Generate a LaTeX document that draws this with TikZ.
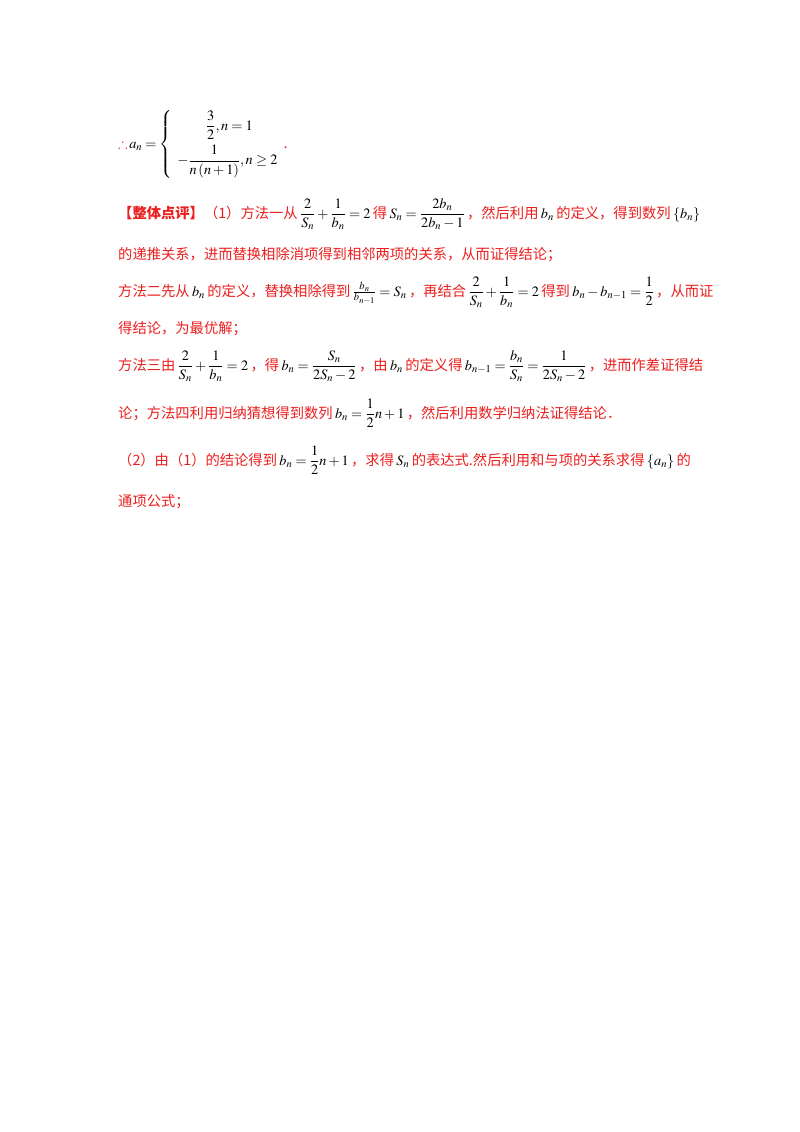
\documentclass[tikz,border=0pt]{standalone}
\usepackage{fontspec}
\usepackage{amsmath,amssymb}
\usepackage{mathptmx}
\newfontfamily\cjk{Noto Sans CJK SC}
\definecolor{rd}{RGB}{235,30,30}
\newcommand{\mk}[1]{\,{\color{black}$#1$}\,}
\begin{document}
\begin{tikzpicture}[x=1pt,y=-1pt,
  ln/.style={anchor=base west,inner sep=0pt,font=\fontsize{14.3}{17}\selectfont\cjk,text=rd}]
\useasboundingbox (0,0) rectangle (800,1132);
\node[ln] (l0) at (118,148) {$\textcolor{rd}{\therefore}\,\color{black}a_n=\left\{\begin{array}{l}\qquad\dfrac{3}{2},n=1\\[10pt] -\dfrac{1}{n\left(n+1\right)},n\geq 2\end{array}\right.$\textcolor{rd}{.}};
\node[ln] (l1) at (118,218) {\textbf{【整体点评】}（1）方法一从\mk{\dfrac{2}{S_n}+\dfrac{1}{b_n}=2}得\mk{S_n=\dfrac{2b_n}{2b_n-1}}，然后利用\mk{b_n}的定义，得到数列\mk{\{b_n\}}};
\node[ln] (l2) at (118,259) {的递推关系，进而替换相除消项得到相邻两项的关系，从而证得结论；};
\node[ln] (l3) at (118,296) {方法二先从\mk{b_n}的定义，替换相除得到\mk{\frac{b_n}{b_{n-1}}=S_n}，再结合\mk{\dfrac{2}{S_n}+\dfrac{1}{b_n}=2}得到\mk{b_n-b_{n-1}=\dfrac{1}{2}}，从而证};
\node[ln] (l4) at (118,333) {得结论，为最优解；};
\node[ln] (l5) at (118,370) {方法三由\mk{\dfrac{2}{S_n}+\dfrac{1}{b_n}=2}，得\mk{b_n=\dfrac{S_n}{2S_n-2}}，由\mk{b_n}的定义得\mk{b_{n-1}=\dfrac{b_n}{S_n}=\dfrac{1}{2S_n-2}}，进而作差证得结};
\node[ln] (l6) at (118,418) {论；方法四利用归纳猜想得到数列\mk{b_n=\dfrac{1}{2}n+1}，然后利用数学归纳法证得结论．};
\node[ln] (l7) at (118,465) {（2）由（1）的结论得到\mk{b_n=\dfrac{1}{2}n+1}，求得\mk{S_n}的表达式.然后利用和与项的关系求得\mk{\{a_n\}}的};
\node[ln] (l8) at (118,506) {通项公式；};
\end{tikzpicture}
\end{document}
